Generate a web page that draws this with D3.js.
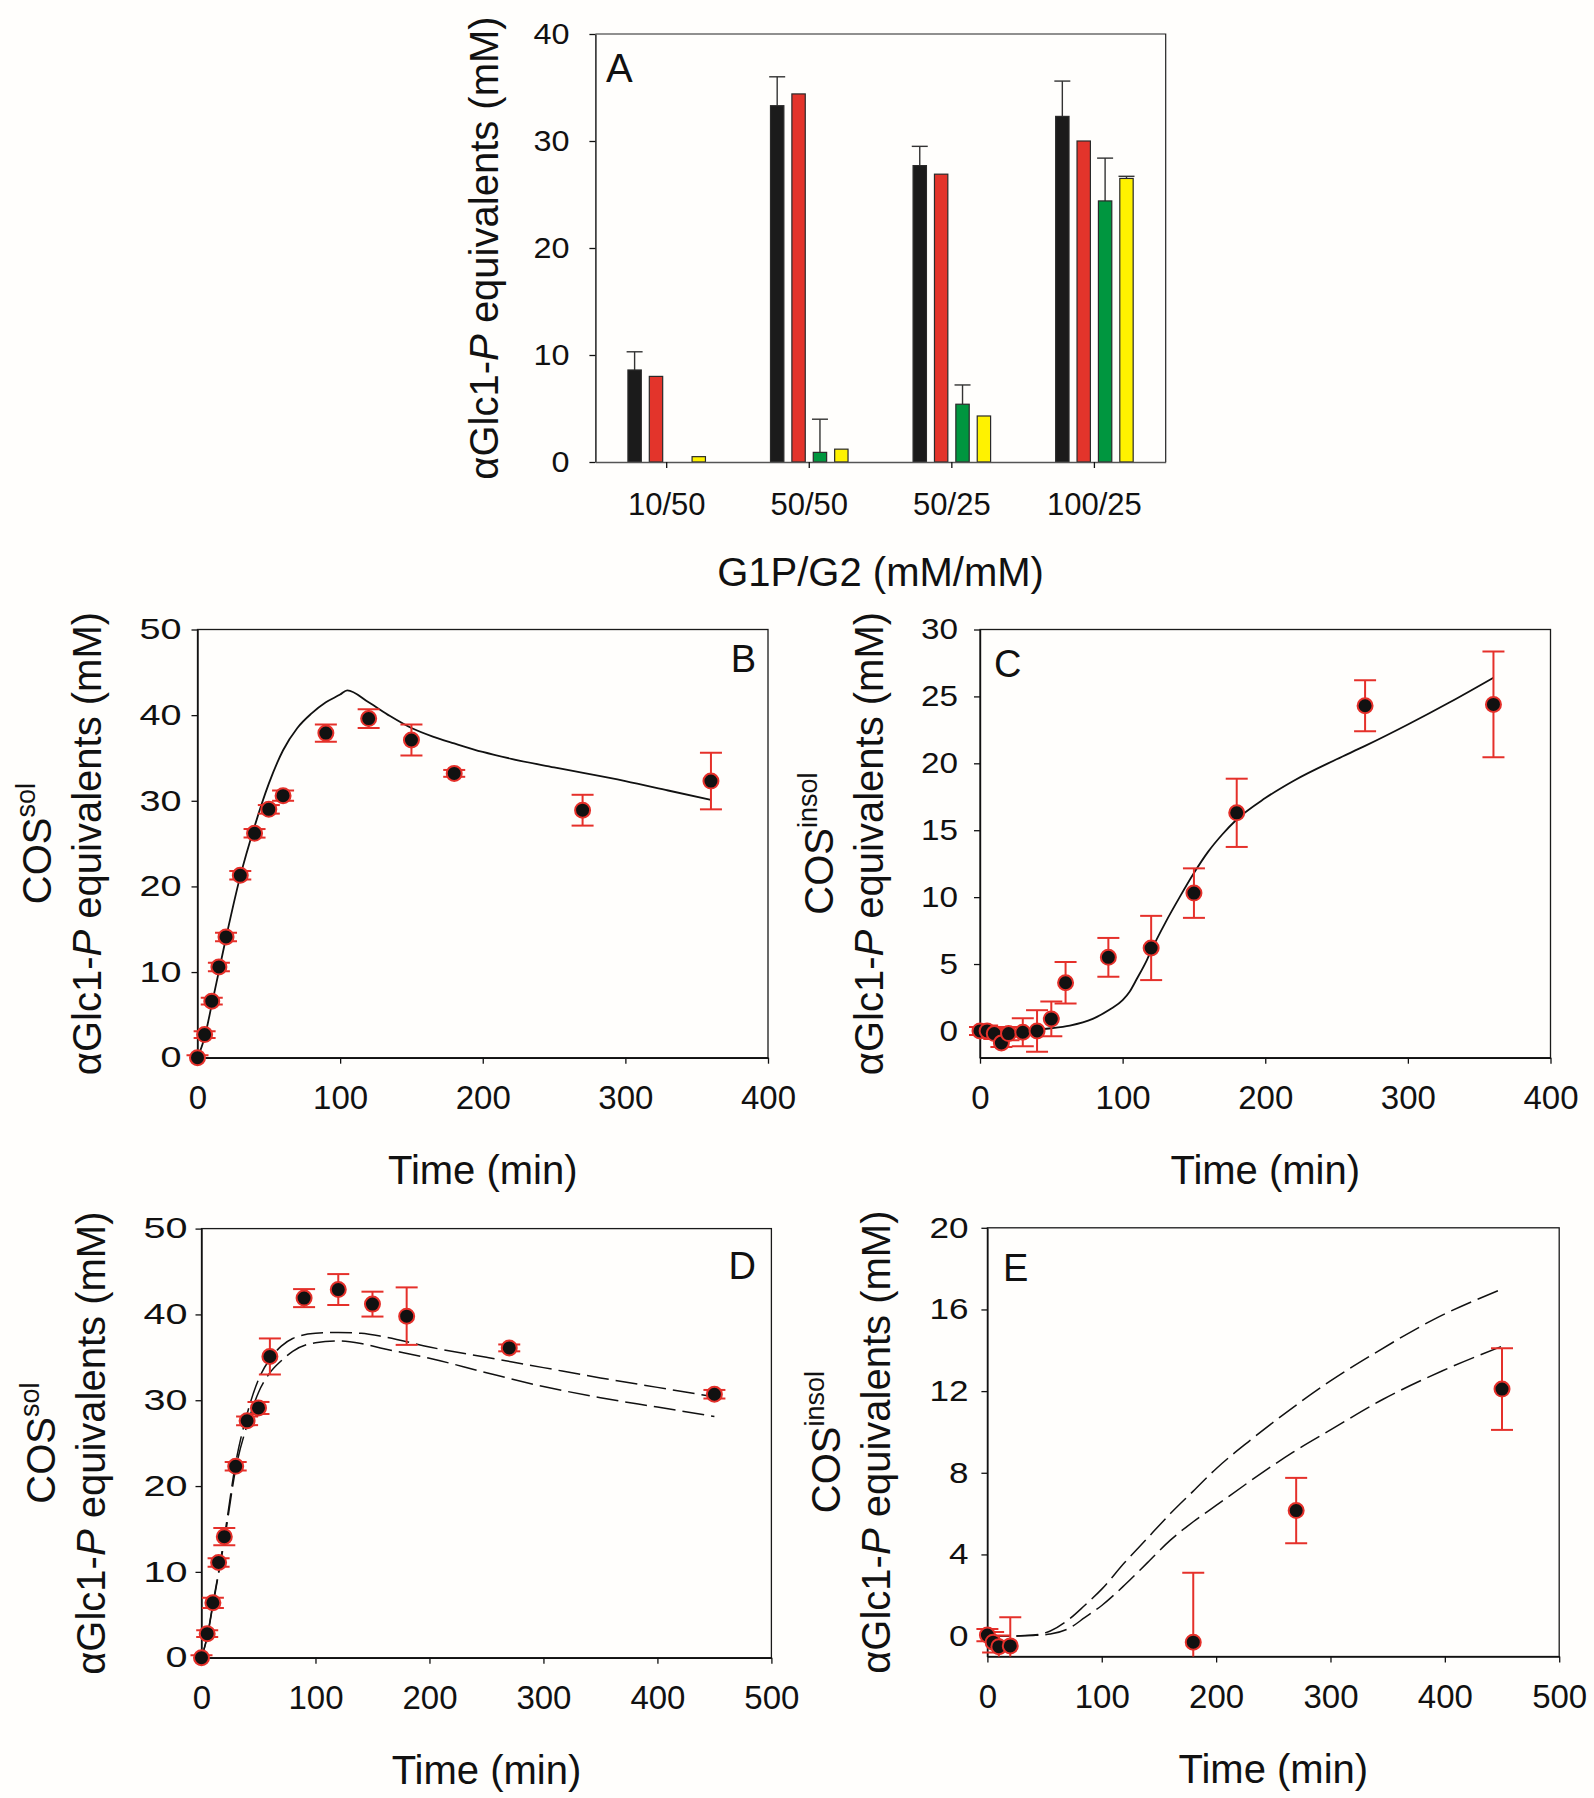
<!DOCTYPE html>
<html><head><meta charset="utf-8">
<script src="https://cdn.jsdelivr.net/npm/d3@7"></script>
<style>
body{margin:0;background:#fffefc}
svg{display:block}
text{font-family:"Liberation Sans",Arial,Helvetica,sans-serif;fill:#111}
</style>
</head><body>
<svg id="chart" width="1594" height="1798"></svg>
<script>
// ---------------- Panel A data ----------------
const groupLabels = ["10/50", "50/50", "50/25", "100/25"];
const seriesNames = ["black", "red", "green", "yellow"];
const seriesColors = ["#1b1b1b", "#e3342b", "#00963f", "#fff200"];
const barBlack  = [8.6, 33.3, 27.7, 32.3];
const errBlack  = [1.7, 2.7, 1.8, 3.3];
const barRed    = [8.0, 34.4, 26.9, 30.0];
const errRed    = [0, 0, 0, 0];
const barGreen  = [0, 0.9, 5.4, 24.4];
const errGreen  = [0, 3.1, 1.8, 4.0];
const barYellow = [0.5, 1.2, 4.3, 26.5];
const errYellow = [0, 0, 0, 0.2];
const ticksA = [0, 10, 20, 30, 40];

// ---------------- Panel B data ----------------
const timeB = [0, 5, 10, 15, 20, 30, 40, 50, 60, 90, 120, 150, 180, 270, 360];
const valB  = [0, 2.7, 6.6, 10.6, 14.1, 21.3, 26.2, 29.0, 30.6, 37.9, 39.6, 37.1, 33.2, 28.9, 32.3];
const errB  = [0.3, 0.4, 0.4, 0.5, 0.5, 0.5, 0.5, 0.5, 0.6, 1.0, 1.1, 1.8, 0.4, 1.8, 3.3];
const modelTimeB = [0, 5, 10, 15, 20, 30, 40, 50, 60, 70, 80, 90, 100, 105, 120, 135, 150, 165, 180, 200, 220, 250, 300, 330, 360];
const modelB     = [0, 2.4, 6.2, 10.1, 14.0, 21.2, 27.0, 32.0, 35.9, 38.5, 40.2, 41.5, 42.4, 42.9, 41.5, 39.9, 38.5, 37.5, 36.7, 35.7, 34.9, 33.9, 32.3, 31.2, 30.1];
const xTicksB = [0, 100, 200, 300, 400];
const yTicksB = [0, 10, 20, 30, 40, 50];

// ---------------- Panel C data ----------------
const timeC = [0, 5, 10, 15, 20, 30, 40, 50, 60, 90, 120, 150, 180, 270, 360];
const valC  = [0.0, 0.0, -0.2, -0.9, -0.2, -0.1, 0.0, 0.9, 3.6, 5.5, 6.2, 10.3, 16.3, 24.3, 24.4];
const errC  = [0.3, 0.4, 0.4, 0.3, 0.5, 1.05, 1.55, 1.3, 1.55, 1.45, 2.4, 1.85, 2.55, 1.9, 3.95];
const modelTimeC = [0, 10, 20, 30, 40, 50, 63, 79, 91, 100, 105, 110, 117, 120, 130, 140, 150, 160, 170, 180, 200, 220, 250, 270, 300, 330, 360];
const modelC     = [0, 0, 0, 0.05, 0.1, 0.2, 0.4, 0.9, 1.6, 2.3, 2.95, 3.9, 5.3, 6.0, 8.1, 10.0, 11.8, 13.4, 14.7, 15.8, 17.4, 18.7, 20.3, 21.3, 22.9, 24.6, 26.4];
const xTicksC = [0, 100, 200, 300, 400];
const yTicksC = [0, 5, 10, 15, 20, 25, 30];

// ---------------- Panel D data ----------------
const timeD = [0, 5, 10, 15, 20, 30, 40, 50, 60, 90, 120, 150, 180, 270, 450];
const valD  = [0, 2.8, 6.4, 11.1, 14.1, 22.3, 27.6, 29.1, 35.1, 41.9, 42.9, 41.2, 39.8, 36.1, 30.7];
const errD  = [0.3, 0.4, 0.6, 0.5, 1.0, 0.5, 0.5, 0.7, 2.1, 1.05, 1.8, 1.45, 3.35, 0.4, 0.5];
const modelTimeD = [0, 5, 10, 15, 20, 30, 40, 50, 60, 70, 80, 100, 120, 140, 160, 200, 250, 300, 350, 400, 450];
const modelD1    = [0, 2.5, 6.3, 10.0, 14.0, 22.7, 28.4, 32.4, 34.8, 36.3, 37.2, 37.8, 37.9, 37.8, 37.4, 36.2, 35.0, 33.8, 32.6, 31.5, 30.4];
const modelD2    = [0, 2.4, 6.1, 9.8, 13.6, 22.0, 27.1, 30.9, 33.2, 34.6, 35.7, 36.7, 36.9, 36.6, 36.0, 34.9, 33.2, 31.6, 30.3, 29.2, 28.1];
const xTicksD = [0, 100, 200, 300, 400, 500];
const yTicksD = [0, 10, 20, 30, 40, 50];

// ---------------- Panel E data ----------------
const timeE = [0, 5, 10, 20, 180, 270, 450];
const valE  = [0.05, -0.3, -0.52, -0.48, -0.3, 6.15, 12.1];
const errE  = [0.3, 0.5, 0.55, 1.4, 3.4, 1.6, 2.0];
const modelTimeE1 = [0, 20, 40, 55, 72, 85, 100, 120, 140, 160, 180, 200, 230, 260, 300, 340, 390, 450];
const modelE1     = [0, 0, 0.05, 0.25, 0.85, 1.5, 2.3, 3.6, 4.8, 6.0, 7.1, 8.2, 9.6, 10.9, 12.5, 13.9, 15.5, 17.0];
const modelTimeE2 = [0, 20, 40, 55, 72, 85, 100, 120, 140, 160, 180, 200, 230, 267, 300, 346, 398, 450];
const modelE2     = [0, 0, 0.03, 0.1, 0.4, 0.9, 1.5, 2.5, 3.6, 4.7, 5.6, 6.4, 7.6, 9.0, 10.1, 11.6, 13.0, 14.2];
const xTicksE = [0, 100, 200, 300, 400, 500];
const yTicksE = [0, 4, 8, 12, 16, 20];

// ---------------- drawing ----------------
const svg = d3.select("#chart");
svg.append("rect").attr("width", 1594).attr("height", 1798).attr("fill", "#fffefc");
const RED = "#e5302a";
const FONT_TICK_Y = 29, FONT_TICK_X = 33, FONT_TITLE = 40;

function styleAxis(sel, stretchPerChar) {
  sel.select(".domain").attr("stroke", "#111").attr("stroke-width", 1.4);
  sel.selectAll(".tick line").attr("stroke", "#111").attr("stroke-width", 1.3);
  sel.selectAll(".tick text").attr("fill", "#111").attr("font-family", null);
  if (stretchPerChar) {
    sel.selectAll(".tick text").each(function () {
      const t = d3.select(this);
      t.attr("textLength", t.text().length * stretchPerChar).attr("lengthAdjust", "spacingAndGlyphs");
    });
  }
}

function yTitle(g, x, cy, withCos, cosSup) {
  if (withCos) {
    const t1 = g.append("text")
      .attr("transform", `translate(${x - 147},${cy}) rotate(-90)`)
      .attr("text-anchor", "middle").attr("font-size", FONT_TITLE);
    t1.append("tspan").text("COS");
    t1.append("tspan").attr("font-size", 27).attr("dy", -16).text(cosSup);
  }
  const t2 = g.append("text")
    .attr("transform", `translate(${x - 97},${cy}) rotate(-90)`)
    .attr("text-anchor", "middle").attr("font-size", FONT_TITLE);
  t2.append("tspan").text("\u03B1Glc1-");
  t2.append("tspan").attr("font-style", "italic").text("P");
  t2.append("tspan").text(" equivalents (mM)");
}

// ---- Panel A ----
(function () {
  const L = 595.4, R = 1165.7, T = 34, B = 462;
  const g = svg.append("g");
  const y = d3.scaleLinear().domain([0, 40]).range([B, T]);
  const gx = d3.scaleBand().domain(groupLabels).range([L, R]).paddingInner(0).paddingOuter(0);
  const step = gx.bandwidth() * 0.15;
  const inner = d3.scaleBand().domain(seriesNames)
    .range([gx.bandwidth() / 2 - 2 * step, gx.bandwidth() / 2 + 2 * step]).paddingInner(0.375).paddingOuter(0.1875);
  const values = [barBlack, barRed, barGreen, barYellow];
  const errs = [errBlack, errRed, errGreen, errYellow];
  g.append("path").attr("d", `M${L},${T}H${R}V${B}`).attr("fill", "none").attr("stroke", "#222").attr("stroke-width", 1.2);
  seriesNames.forEach((s, si) => {
    groupLabels.forEach((c, ci) => {
      const v = values[si][ci];
      if (v <= 0) return;
      const bx = gx(c) + inner(s);
      const bw = inner.bandwidth();
      const e = errs[si][ci];
      if (e > 0) {
        const cxm = bx + bw / 2;
        g.append("line").attr("x1", cxm).attr("x2", cxm).attr("y1", y(v)).attr("y2", y(v + e))
          .attr("stroke", "#333").attr("stroke-width", 1.4);
        g.append("line").attr("x1", cxm - 8).attr("x2", cxm + 8).attr("y1", y(v + e)).attr("y2", y(v + e))
          .attr("stroke", "#333").attr("stroke-width", 1.4);
      }
      g.append("rect").attr("x", bx).attr("y", y(v)).attr("width", bw).attr("height", y(0) - y(v))
        .attr("fill", seriesColors[si]).attr("stroke", "#2a2a2a").attr("stroke-width", 1.2);
    });
  });
  const ya = g.append("g").attr("transform", `translate(${L},0)`)
    .call(d3.axisLeft(y).tickValues(ticksA).tickSize(6).tickPadding(20).tickSizeOuter(0))
    .attr("font-size", FONT_TICK_Y);
  styleAxis(ya, 18);
  const xa = g.append("g").attr("transform", `translate(0,${B})`)
    .call(d3.axisBottom(gx).tickSize(6).tickPadding(25).tickSizeOuter(0))
    .attr("font-size", 31);
  styleAxis(xa, 0);
  xa.select(".domain").attr("stroke", "#555");
  g.append("text").attr("x", (L + R) / 2).attr("y", 585.5).attr("text-anchor", "middle")
    .attr("font-size", FONT_TITLE).text("G1P/G2 (mM/mM)");
  g.append("text").attr("x", 606).attr("y", 82).attr("font-size", 40).text("A");
  yTitle(g, L, (T + B) / 2, false);
})();

// ---- time-course panels ----
let clipId = 0;
function timePanel(o) {
  const g = svg.append("g");
  const x = d3.scaleLinear().domain(o.xDomain).range([o.L, o.R]);
  const y = d3.scaleLinear().domain(o.yDomain).range([o.B, o.T]);
  g.append("rect").attr("x", o.L).attr("y", o.T).attr("width", o.R - o.L).attr("height", o.B - o.T)
    .attr("fill", "none").attr("stroke", "#1a1a1a").attr("stroke-width", 1.3);
  const ya = g.append("g").attr("transform", `translate(${o.L},0)`)
    .call(d3.axisLeft(y).tickValues(o.yTicks).tickSize(6).tickPadding(o.yPad).tickSizeOuter(0))
    .attr("font-size", FONT_TICK_Y);
  styleAxis(ya, o.yCharW);
  const xa = g.append("g").attr("transform", `translate(0,${o.B})`)
    .call(d3.axisBottom(x).tickValues(o.xTicks).tickSize(6).tickPadding(22).tickSizeOuter(0))
    .attr("font-size", FONT_TICK_X);
  styleAxis(xa, 0);

  const id = "clip" + (clipId++);
  g.append("clipPath").attr("id", id).append("rect")
    .attr("x", o.L - 30).attr("y", o.T).attr("width", o.R - o.L + 60).attr("height", o.B - o.T);

  const line = d3.line().x(d => x(d[0])).y(d => y(d[1])).curve(d3.curveMonotoneX);
  o.models.forEach(m => {
    const pts = m.t.map((t, i) => [t, m.v[i]]);
    g.append("path").attr("d", line(pts)).attr("fill", "none").attr("stroke", "#111")
      .attr("stroke-width", m.dashed ? 1.5 : 1.8)
      .attr("stroke-dasharray", m.dashed ? "22,7" : null);
  });

  const eb = g.append("g").attr("clip-path", `url(#${id})`);
  o.t.forEach((t, i) => {
    const v = o.v[i], e = o.e[i];
    const cx = x(t);
    eb.append("line").attr("x1", cx).attr("x2", cx).attr("y1", y(v - e)).attr("y2", y(v + e))
      .attr("stroke", RED).attr("stroke-width", 2);
    [v - e, v + e].forEach(w => {
      eb.append("line").attr("x1", cx - 11).attr("x2", cx + 11).attr("y1", y(w)).attr("y2", y(w))
        .attr("stroke", RED).attr("stroke-width", 2);
    });
  });
  o.t.forEach((t, i) => {
    g.append("circle").attr("cx", x(t)).attr("cy", y(o.v[i])).attr("r", 7.5)
      .attr("fill", "#111").attr("stroke", RED).attr("stroke-width", 2);
  });

  g.append("text").attr("x", (o.L + o.R) / 2).attr("y", o.B + 126).attr("text-anchor", "middle")
    .attr("font-size", FONT_TITLE).text("Time (min)");
  g.append("text").attr("x", o.labelX).attr("y", o.labelY).attr("font-size", o.labelSize)
    .attr("text-anchor", o.labelAnchor).text(o.label);
  yTitle(g, o.L, (o.T + o.B) / 2, true, o.sup);
}

timePanel({
  L: 197.5, R: 768, T: 629.5, B: 1057.7, xDomain: [0, 400], yDomain: [0, 50],
  xTicks: xTicksB, yTicks: yTicksB, yPad: 10, yCharW: 21,
  t: timeB, v: valB, e: errB,
  models: [{ t: modelTimeB, v: modelB, dashed: false }],
  label: "B", labelX: 756, labelY: 672, labelSize: 38, labelAnchor: "end", sup: "sol"
});
timePanel({
  L: 980, R: 1550.5, T: 629.5, B: 1057.7, xDomain: [0, 400], yDomain: [-2, 30],
  xTicks: xTicksC, yTicks: yTicksC, yPad: 16, yCharW: 18.5,
  t: timeC, v: valC, e: errC,
  models: [{ t: modelTimeC, v: modelC, dashed: false }],
  label: "C", labelX: 994, labelY: 677, labelSize: 38, labelAnchor: "start", sup: "insol"
});
timePanel({
  L: 201.5, R: 771.4, T: 1228.6, B: 1657.7, xDomain: [0, 500], yDomain: [0, 50],
  xTicks: xTicksD, yTicks: yTicksD, yPad: 8, yCharW: 22,
  t: timeD, v: valD, e: errD,
  models: [{ t: modelTimeD, v: modelD1, dashed: true }, { t: modelTimeD, v: modelD2, dashed: true }],
  label: "D", labelX: 756, labelY: 1279, labelSize: 38, labelAnchor: "end", sup: "sol"
});
timePanel({
  L: 987.4, R: 1559.2, T: 1227.8, B: 1656.5, xDomain: [0, 500], yDomain: [-1, 20],
  xTicks: xTicksE, yTicks: yTicksE, yPad: 13, yCharW: 19.5,
  t: timeE, v: valE, e: errE,
  models: [{ t: modelTimeE1, v: modelE1, dashed: true }, { t: modelTimeE2, v: modelE2, dashed: true }],
  label: "E", labelX: 1003, labelY: 1281, labelSize: 38, labelAnchor: "start", sup: "insol"
});
</script>
</body></html>
